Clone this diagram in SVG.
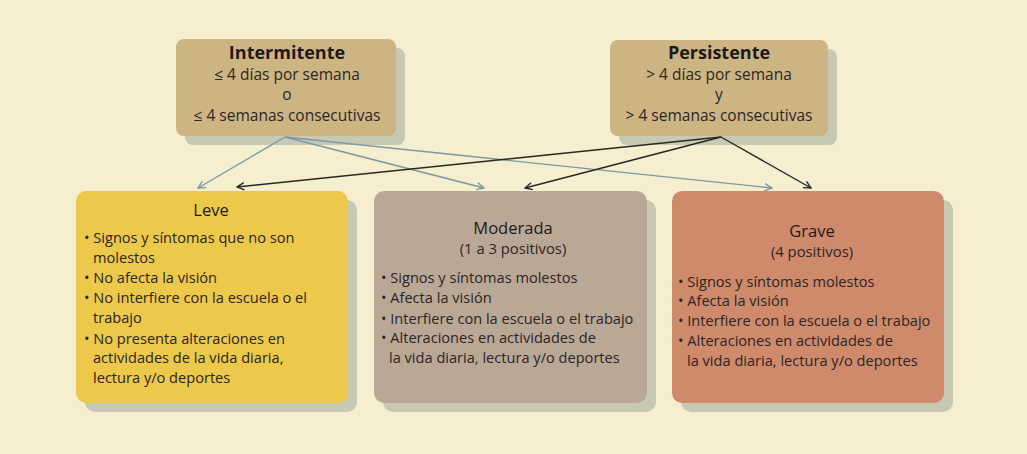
<svg xmlns="http://www.w3.org/2000/svg" width="1027" height="454" viewBox="0 0 1027 454">
<defs>
<style>
.t{font-family:"Open Sans","Noto Sans","Liberation Sans",sans-serif;fill:#2d2526}
.h{font-size:18px;font-weight:bold;text-anchor:middle;fill:#1e1a1a}
.h2{font-size:16.5px;text-anchor:middle;fill:#1e1a1a}
.s{font-size:15.5px;text-anchor:middle}
.s2{font-size:14.8px;text-anchor:middle}
.b{font-size:14.6px}
.sh{fill:#c7c9b5}
.ab{fill:none;stroke:#7e97a0;stroke-width:1.4}
.ak{fill:none;stroke:#2a2624;stroke-width:1.4}
</style>
<marker id="mb" viewBox="0 0 10 10" refX="9" refY="5" markerWidth="9" markerHeight="9" markerUnits="userSpaceOnUse" orient="auto">
<path d="M1,1 L9,5 L1,9" fill="none" stroke="#7e97a0" stroke-width="1.5"/>
</marker>
<marker id="mk" viewBox="0 0 10 10" refX="9" refY="5" markerWidth="9" markerHeight="9" markerUnits="userSpaceOnUse" orient="auto">
<path d="M1,1 L9,5 L1,9" fill="none" stroke="#2a2624" stroke-width="1.5"/>
</marker>
</defs>
<rect width="1027" height="454" fill="#f5efcf"/>

<g id="intermitente">
<rect class="sh" x="185" y="48" width="220" height="97" rx="8"/>
<rect x="176" y="39" width="220" height="97" rx="8" fill="#cdb583"/>
<text class="t h" x="287" y="59">Intermitente</text>
<text class="t s" x="287" y="80">≤ 4 días por semana</text>
<text class="t s" x="287" y="100">o</text>
<text class="t s" x="287" y="121">≤ 4 semanas consecutivas</text>
</g>

<g id="persistente">
<rect class="sh" x="619" y="49" width="218" height="96" rx="8"/>
<rect x="610" y="40" width="218" height="96" rx="8" fill="#cdb583"/>
<text class="t h" x="719" y="59">Persistente</text>
<text class="t s" x="719" y="80">&gt; 4 días por semana</text>
<text class="t s" x="719" y="100">y</text>
<text class="t s" x="719" y="121">&gt; 4 semanas consecutivas</text>
</g>

<g id="connectors">
<line class="ab" x1="285" y1="137" x2="198" y2="188" marker-end="url(#mb)"/>
<line class="ab" x1="285" y1="137" x2="484" y2="188" marker-end="url(#mb)"/>
<line class="ab" x1="285" y1="137" x2="772" y2="188" marker-end="url(#mb)"/>
<line class="ak" x1="721" y1="137" x2="237" y2="187" marker-end="url(#mk)"/>
<line class="ak" x1="721" y1="137" x2="525" y2="188" marker-end="url(#mk)"/>
<line class="ak" x1="721" y1="137" x2="811" y2="188" marker-end="url(#mk)"/>
</g>

<g id="leve">
<rect class="sh" x="85" y="200" width="272" height="212" rx="10"/>
<rect x="76" y="191" width="272" height="212" rx="10" fill="#ecc94a"/>
<text class="t h2" x="211" y="216">Leve</text>
<text class="t b" x="84" y="243">• Signos y síntomas que no son</text>
<text class="t b" x="93" y="263">molestos</text>
<text class="t b" x="84" y="283">• No afecta la visión</text>
<text class="t b" x="84" y="303">• No interfiere con la escuela o el</text>
<text class="t b" x="93" y="323">trabajo</text>
<text class="t b" x="84" y="344">• No presenta alteraciones en</text>
<text class="t b" x="93" y="363">actividades de la vida diaria,</text>
<text class="t b" x="93" y="383">lectura y/o deportes</text>
</g>

<g id="moderada">
<rect class="sh" x="383" y="200" width="273" height="212" rx="10"/>
<rect x="374" y="191" width="273" height="212" rx="10" fill="#b9a896"/>
<text class="t h2" x="513" y="234">Moderada</text>
<text class="t s2" x="513" y="254">(1 a 3 positivos)</text>
<text class="t b" x="381" y="283">• Signos y síntomas molestos</text>
<text class="t b" x="381" y="303">• Afecta la visión</text>
<text class="t b" x="381" y="324">• Interfiere con la escuela o el trabajo</text>
<text class="t b" x="381" y="343">• Alteraciones en actividades de</text>
<text class="t b" x="389" y="363">la vida diaria, lectura y/o deportes</text>
</g>

<g id="grave">
<rect class="sh" x="681" y="200" width="272" height="212" rx="10"/>
<rect x="672" y="191" width="272" height="212" rx="10" fill="#cf8a6c"/>
<text class="t h2" x="812" y="237">Grave</text>
<text class="t s2" x="812" y="257">(4 positivos)</text>
<text class="t b" x="678" y="287">• Signos y síntomas molestos</text>
<text class="t b" x="678" y="306">• Afecta la visión</text>
<text class="t b" x="678" y="326">• Interfiere con la escuela o el trabajo</text>
<text class="t b" x="678" y="346">• Alteraciones en actividades de</text>
<text class="t b" x="687" y="366">la vida diaria, lectura y/o deportes</text>
</g>
</svg>
